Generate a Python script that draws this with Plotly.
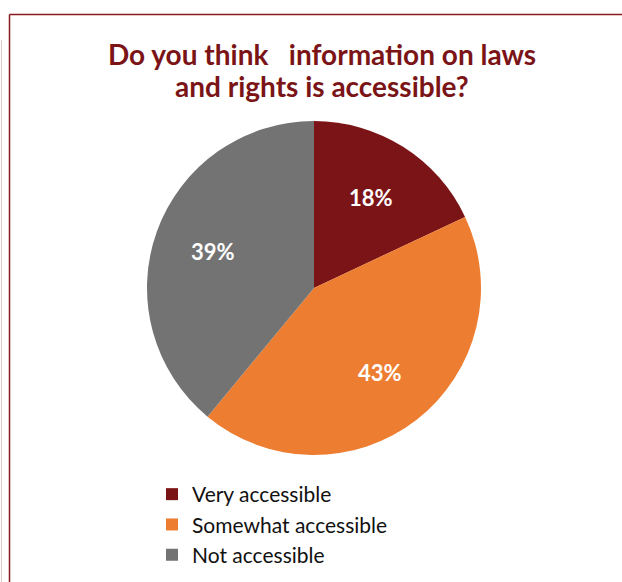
import math
import plotly.graph_objects as go

# Survey responses (share of respondents, %)
categories = ["Very accessible", "Somewhat accessible", "Not accessible"]
shares = [18, 43, 39]
colors = ["#7B1416", "#ED7D31", "#737373"]

title_lines = ["Do you think\u00a0\u00a0 information on laws", "and rights is accessible?"]

W, H = 622, 582

# Pie placement in pixels (centre and radius)
cx, cy, rad = 314, 288, 167
label_frac = 0.64

fig = go.Figure(
    go.Pie(
        labels=categories,
        values=shares,
        sort=False,
        direction="clockwise",
        rotation=0,
        marker=dict(colors=colors, line=dict(width=0)),
        textinfo="none",
        domain=dict(x=[(cx - rad) / W, (cx + rad) / W],
                    y=[1 - (cy + rad) / H, 1 - (cy - rad) / H]),
        hoverinfo="label+percent",
    )
)

# Percentage labels at the angular midpoint of each slice
total = sum(shares)
acc = 0
for v in shares:
    mid = (acc + v / 2) / total * 2 * math.pi
    acc += v
    px = cx + label_frac * rad * math.sin(mid)
    py = cy - label_frac * rad * math.cos(mid)
    fig.add_annotation(
        x=px / W, y=1 - py / H, xref="paper", yref="paper",
        text=f"{v}%", showarrow=False,
        font=dict(family="Lato", size=22, color="white", weight="bold"),
        xanchor="center", yanchor="middle",
    )

# Two-line heading
for i, line in enumerate(title_lines):
    fig.add_annotation(
        x=322 / W, y=1 - (54 + 32 * i) / H, xref="paper", yref="paper",
        text=line, showarrow=False,
        font=dict(family="Lato", size=28, color="#7B1416", weight="bold"),
        xanchor="center", yanchor="middle",
    )

# Frame lines along the top and left edges
frame = "#8B1A1E"
fig.add_shape(type="line", xref="paper", yref="paper",
              x0=9.5 / W, x1=1, y0=1 - 14.5 / H, y1=1 - 14.5 / H,
              line=dict(color=frame, width=1.5))
fig.add_shape(type="line", xref="paper", yref="paper",
              x0=9.5 / W, x1=9.5 / W, y0=0, y1=1 - 14.5 / H,
              line=dict(color=frame, width=1.5))
fig.add_shape(type="line", xref="paper", yref="paper",
              x0=1.5 / W, x1=1.5 / W, y0=0, y1=1 - 40 / H,
              line=dict(color="#E3C9CA", width=1))

fig.update_layout(
    width=W,
    height=H,
    margin=dict(l=0, r=0, t=0, b=0),
    paper_bgcolor="white",
    plot_bgcolor="white",
    showlegend=True,
    legend=dict(
        x=152 / W,
        xanchor="left",
        y=1 - 474 / H,
        yanchor="top",
        font=dict(family="Lato", size=21, color="#111111"),
        bgcolor="rgba(0,0,0,0)",
        traceorder="normal",
    ),
)

fig.write_html("out.html")
